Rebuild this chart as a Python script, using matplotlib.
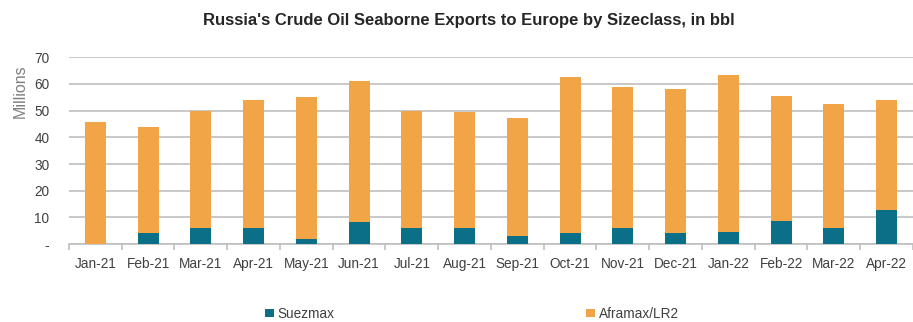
import matplotlib.pyplot as plt
import numpy as np

plt.rcParams['font.family'] = ['Liberation Sans', 'DejaVu Sans']

months = ['Jan-21', 'Feb-21', 'Mar-21', 'Apr-21', 'May-21', 'Jun-21', 'Jul-21', 'Aug-21',
          'Sep-21', 'Oct-21', 'Nov-21', 'Dec-21', 'Jan-22', 'Feb-22', 'Mar-22', 'Apr-22']
suezmax = [0.0, 4.0, 6.0, 6.0, 1.8, 8.1, 6.0, 6.0, 2.9, 4.0, 6.0, 4.0, 4.6, 8.5, 6.0, 12.6]
aframax = [45.8, 39.7, 43.8, 48.0, 53.4, 53.1, 44.0, 43.6, 44.4, 58.7, 52.7, 54.3, 58.8, 46.9, 46.4, 41.5]

suez_color = '#0C6F88'
afra_color = '#F2A546'
grid_color = '#BFBFBF'
text_color = '#404040'

fig = plt.figure(figsize=(9.13, 3.22), dpi=100)
ax = fig.add_axes([0.0755, 0.242, 0.9245, 0.58])

x = np.arange(len(months))
ax.bar(x, suezmax, width=0.4, color=suez_color, label='Suezmax', zorder=3)
ax.bar(x, aframax, width=0.4, bottom=suezmax, color=afra_color, label='Aframax/LR2', zorder=3)

ax.set_xlim(-0.5, len(months) - 0.5)
ax.set_ylim(0, 70)
ax.set_yticks(range(0, 71, 10))
ax.set_yticklabels(['-'] + [str(v) for v in range(10, 71, 10)])
ax.yaxis.grid(True, color=grid_color, linewidth=1.2, zorder=0)
ax.tick_params(axis='y', length=0, pad=14, labelsize=9.8, labelcolor=text_color)

# month labels in the middle, small ticks between the months
ax.set_xticks(x)
ax.set_xticklabels(months)
ax.set_xticks(np.arange(-0.5, len(months), 1), minor=True)
ax.tick_params(axis='x', which='major', length=0, pad=9, labelsize=9.8, labelcolor=text_color)
ax.tick_params(axis='x', which='minor', length=4, color=grid_color, width=1.2)

for side in ['top', 'right', 'left']:
    ax.spines[side].set_visible(False)
ax.spines['bottom'].set_color(grid_color)
ax.spines['bottom'].set_linewidth(1.2)

ax.set_ylabel('Millions', color='#7F7F7F', fontsize=11.5)
ax.yaxis.set_label_coords(-0.049, 0.82)

fig.text(0.514, 0.935, "Russia's Crude Oil Seaborne Exports to Europe by Sizeclass, in bbl",
         ha='center', va='center', fontsize=12, fontweight='bold', color='#262626')

fig.legend(loc='center', bbox_to_anchor=(0.517, 0.025), ncol=2, frameon=False,
           fontsize=9.8, handlelength=0.6, handleheight=0.6, handletextpad=0.3,
           columnspacing=18.5, labelcolor=text_color)

fig.savefig('out.png', dpi=100, facecolor='white')
